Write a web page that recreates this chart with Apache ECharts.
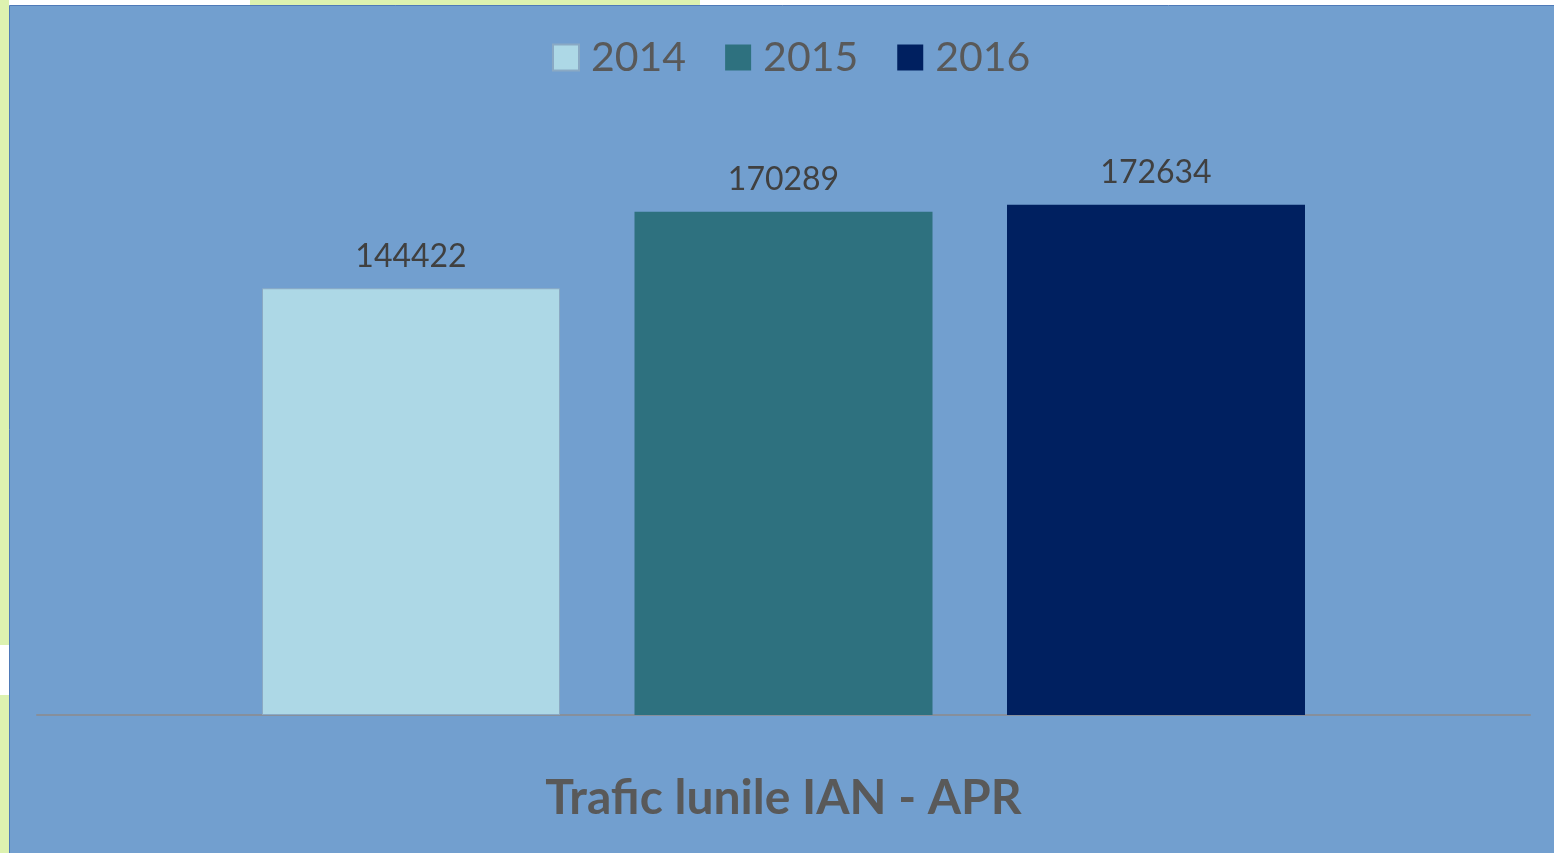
<!DOCTYPE html>
<html><head><meta charset="utf-8">
<script src="https://cdn.jsdelivr.net/npm/echarts@6/dist/echarts.min.js"></script>
<style>html,body{margin:0;padding:0;background:#fff;}#c{width:1554px;height:853px;}</style>
</head><body><div id="c"></div>
<script>
const categories = ['Trafic lunile IAN - APR'];
const years = ['2014', '2015', '2016'];
const values2014 = [144422];
const values2015 = [170289];
const values2016 = [172634];
const colors = ['#ADD8E6', '#2E717F', '#002060'];

const chart = echarts.init(document.getElementById('c'));
const seriesData = [values2014, values2015, values2016];
chart.setOption({
  animation: false,
  backgroundColor: '#ffffff',
  graphic: [
    {type: 'rect', z: -10, shape: {x: 0, y: 0, width: 9, height: 853}, style: {fill: '#DDF2B0'}},
    {type: 'rect', z: -10, shape: {x: 0, y: 645, width: 9, height: 50}, style: {fill: '#ffffff'}},
    {type: 'rect', z: -10, shape: {x: 250, y: 0, width: 450, height: 5}, style: {fill: '#DDF2B0'}},
    {type: 'rect', z: -9, shape: {x: 9.5, y: 5.5, width: 1550, height: 852}, style: {fill: '#729FCF', stroke: '#4F7AB8', lineWidth: 1}}
  ],
  legend: {
    data: years,
    left: 547,
    top: 32,
    itemWidth: 26,
    itemHeight: 26,
    itemGap: 39,
    icon: 'rect',
    textStyle: {fontFamily: 'Lato', fontSize: 41, color: '#595959', padding: [0, 0, 0, 7]}
  },
  grid: {left: 37, right: 24, top: 124, bottom: 138},
  xAxis: {
    type: 'category',
    data: categories,
    axisLine: {lineStyle: {color: '#868F9C', width: 2}},
    axisTick: {show: false},
    axisLabel: {margin: 60, fontFamily: 'Lato', fontWeight: 'bold', fontSize: 48, color: '#595959'}
  },
  yAxis: {
    type: 'value', min: 0, max: 200000,
    axisLine: {show: false}, axisTick: {show: false}, axisLabel: {show: false}, splitLine: {show: false}
  },
  series: years.map((y, i) => ({
    name: y,
    type: 'bar',
    data: seriesData[i],
    barWidth: 298,
    barGap: '25%',
    itemStyle: {color: colors[i], borderColor: i === 0 ? '#8AA9C4' : colors[i], borderWidth: i === 0 ? 1 : 0},
    label: {show: true, position: 'top', distance: 16, fontFamily: 'Lato', fontSize: 32, color: '#404040'}
  }))
});
</script></body></html>
